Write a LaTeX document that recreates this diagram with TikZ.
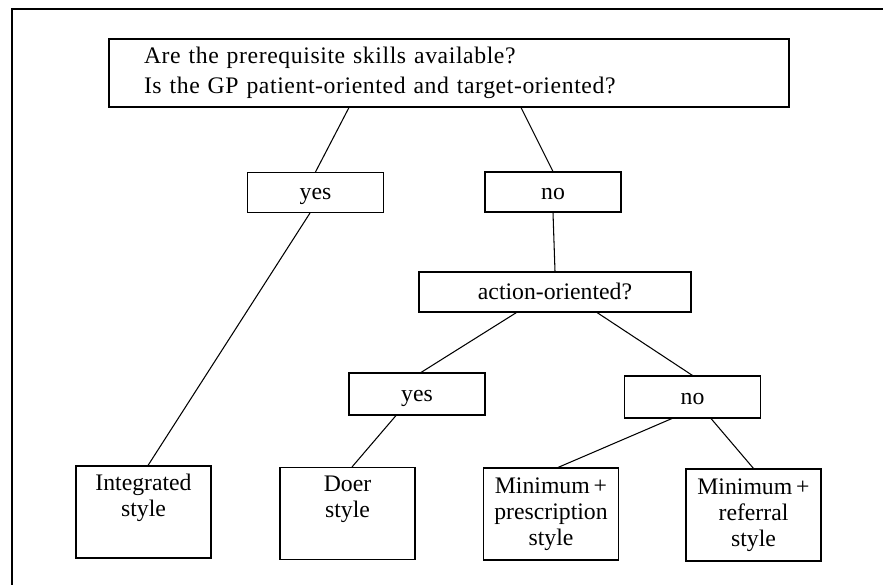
\documentclass[tikz,border=0pt]{standalone}
\usepackage{fontspec}
\setmainfont{Liberation Serif}
\newfontfamily\qfont{Liberation Serif}[LetterSpace=2.5]

\begin{document}
\begin{tikzpicture}[
    line width=0.6pt,
    font=\fontsize{13.5}{14.8}\selectfont,
    box/.style={rectangle, draw=black, minimum width=2.72cm, minimum height=0.8cm, inner sep=2pt, align=center, text height=11pt, text depth=3pt},
    leafbox/.style={rectangle, draw=black, minimum width=2.7cm, minimum height=1.84cm, inner sep=2pt, align=center},
    qbox/.style={rectangle, draw=black, text width=12.2cm, inner xsep=0.7cm, minimum height=1.36cm, align=left,
        font=\qfont\fontsize{13.5}{14.8}\selectfont},
    link/.style={draw=black},
]
\useasboundingbox (0,0) rectangle (17.66,11.70);

% ===== Frame =====
\draw (0.24,0) -- (0.24,11.52) -- (17.66,11.52);

% ===== Question =====
\node[qbox] (quest) at (8.98,10.24) {Are the prerequisite skills available?\\[2.2pt]Is the GP patient-oriented and target-oriented?};

% ===== Answers =====
\node[box] (yesA) at (6.31,7.85) {yes};
\node[box] (noA) at (11.06,7.86) {no};
\node[box, minimum width=5.44cm] (action) at (11.10,5.86) {action-oriented?};
\node[box, minimum height=0.84cm] (yesB) at (8.34,3.82) {yes};
\node[box, minimum height=0.84cm] (noB) at (13.85,3.76) {no};

% ===== Styles =====
\node[leafbox] (integ) at (2.87,1.46) {Integrated\\style\\\strut};
\node[leafbox] (doer) at (6.95,1.43) {Doer\\style\\\strut};
\node[leafbox] (presc) at (11.02,1.42) {Minimum\,+\\prescription\\style};
\node[leafbox] (refer) at (15.07,1.40) {Minimum\,+\\referral\\style};

% ===== Lines =====
\draw[link] ([xshift=-2cm]quest.south) -- (yesA.north);
\draw[link] ([xshift=1.44cm]quest.south) -- (noA.north);
\draw[link] (noA.south) -- (action.north);
\draw[link] ([xshift=-0.77cm]action.south) -- ([xshift=0.08cm]yesB.north);
\draw[link] ([xshift=0.84cm]action.south) -- (noB.north);
\draw[link] ([xshift=-0.11cm]yesA.south) -- ([xshift=0.09cm]integ.north);
\draw[link] ([xshift=-0.42cm]yesB.south) -- ([xshift=0.09cm]doer.north);
\draw[link] ([xshift=-0.41cm]noB.south) -- ([xshift=0.14cm]presc.north);
\draw[link] ([xshift=0.37cm]noB.south) -- (refer.north);

\end{tikzpicture}
\end{document}
